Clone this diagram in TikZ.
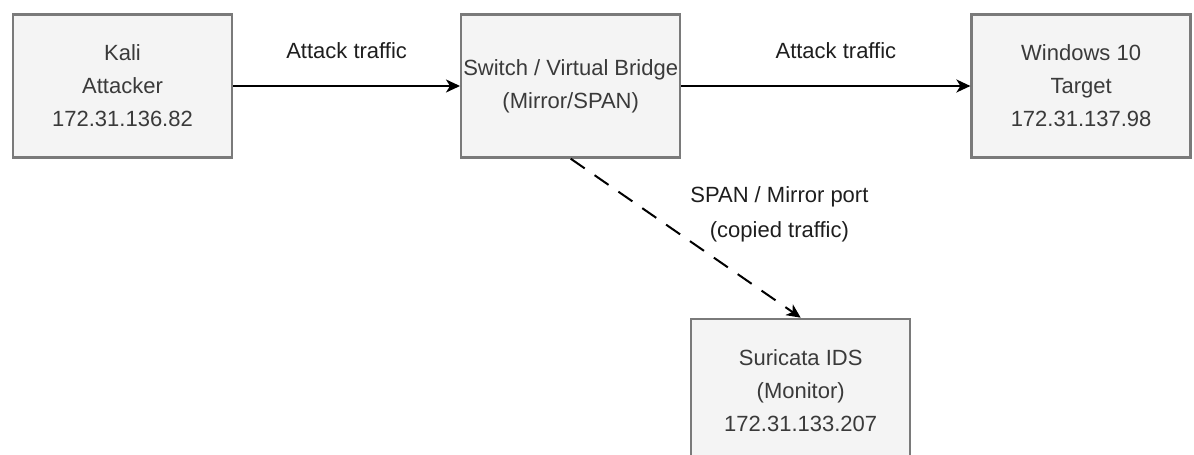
\documentclass[tikz,border=0pt]{standalone}
\usepackage{fontspec}
\setmainfont{Liberation Sans}
\usetikzlibrary{arrows.meta,positioning}

\definecolor{boxfill}{HTML}{F4F4F4}
\definecolor{boxline}{HTML}{7A7A7A}
\definecolor{boxtext}{HTML}{3A3A3A}
\definecolor{lbltext}{HTML}{1E1E1E}

\begin{document}
\begin{tikzpicture}[->,>={Stealth[length=7pt,width=6.5pt,inset=2pt]},auto,node distance=2cm,
                    line width=1pt]

  \tikzstyle{hostbox} = [draw=boxline, fill=boxfill, text=boxtext, line width=1.2pt,
                         minimum width=109.5pt, minimum height=71.5pt, align=center,
                         inner xsep=0.5pt, font=\fontsize{11}{16.5}\selectfont]
  \tikzstyle{lbl} = [text=lbltext, align=center, font=\fontsize{11}{17.5}\selectfont]

  \clip (0,0) rectangle (597pt,-227.5pt);

  \node[hostbox] (kali) at (61.25pt,-43pt) {Kali\\Attacker\\172.31.136.82};
  \node[hostbox] (switch) [right=113.4pt of kali]  {Switch / Virtual Bridge\\(Mirror/SPAN)};
  \node[hostbox] (win)    [right=144.5pt of switch]  {Windows 10\\Target\\172.31.137.98};
  \node[hostbox] (ids)    [below right=79.5pt and 4.3pt of switch] {Suricata IDS\\(Monitor)\\172.31.133.207};

  \path (kali) edge node [lbl, yshift=10pt] {Attack traffic} (switch)
        (switch) edge node [lbl, xshift=5pt, yshift=10pt] {Attack traffic} (win)
        (switch.south) edge [dash pattern=on 8.5pt off 6pt]
              node [lbl, pos=0.5, anchor=south west, xshift=-1.5pt, yshift=-6pt]
              {SPAN / Mirror port\\(copied traffic)} (ids.north);

\end{tikzpicture}
\end{document}
